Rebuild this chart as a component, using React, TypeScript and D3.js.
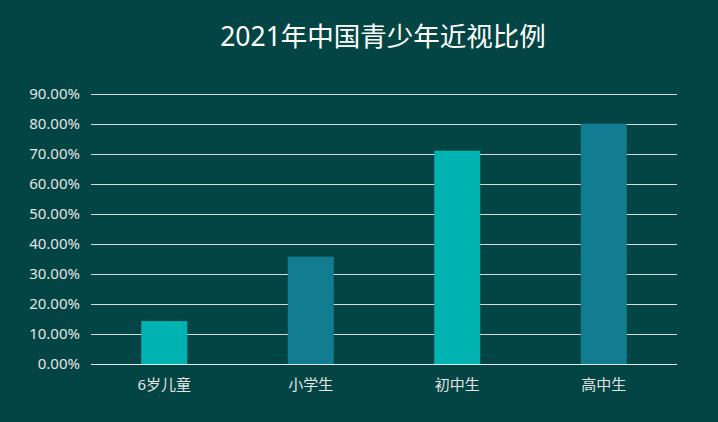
import React from 'react';
import * as d3 from 'd3';

const categories = ['6岁儿童', '小学生', '初中生', '高中生'];
const values = [14.3, 35.8, 71.1, 80.1];
const barColors = ['#00b2b0', '#127c91', '#00b2b0', '#127c91'];
const yTicks = [0, 10, 20, 30, 40, 50, 60, 70, 80, 90];
const title = '2021年中国青少年近视比例';

const W = 718;
const H = 422;
const margin = { top: 94, right: 41, bottom: 58, left: 91 };
const font = '"Noto Sans", "Noto Sans CJK SC", sans-serif';

const App: React.FC = () => {
  const innerW = W - margin.left - margin.right;
  const innerH = H - margin.top - margin.bottom;

  const x = d3.scaleBand<string>().domain(categories).range([0, innerW]).paddingInner(0.686).paddingOuter(0.343);
  const y = d3.scaleLinear().domain([0, 90]).range([innerH, 0]);

  return (
    <div style={{ position: 'fixed', left: 0, top: 0, width: W, height: H }}>
      <svg width={W} height={H} style={{ display: 'block', background: '#034544' }}>
        <rect width={W} height={H} fill="#034544" />
        <text x={margin.left + innerW / 2 - 1} y={46} textAnchor="middle" fill="#ffffff" fontSize={26.5} fontFamily={font}>
          {title}
        </text>
        <g transform={`translate(${margin.left},${margin.top})`}>
          {yTicks.map(t => (
            <g key={t}>
              <line x1={0} x2={innerW} y1={Math.round(y(t)) + 0.5} y2={Math.round(y(t)) + 0.5} stroke="#d9d9d9" strokeWidth={1} />
              <text x={-11} y={y(t)} dy="0.35em" textAnchor="end" fill="#e4e4e4" fontSize={15} fontFamily={font}>
                {d3.format('.2f')(t) + '%'}
              </text>
            </g>
          ))}
          {categories.map((c, i) => (
            <rect key={c} x={x(c)} y={y(values[i])} width={x.bandwidth()} height={innerH - y(values[i])} fill={barColors[i]} />
          ))}
          <line x1={0} x2={innerW} y1={innerH + 0.5} y2={innerH + 0.5} stroke="#e8e8e8" strokeWidth={1} />
          {categories.map(c => (
            <text key={c} x={(x(c) ?? 0) + x.bandwidth() / 2} y={innerH + 26} textAnchor="middle" fill="#e4e4e4" fontSize={15} fontFamily={font}>
              {c}
            </text>
          ))}
        </g>
      </svg>
    </div>
  );
};

export default App;
